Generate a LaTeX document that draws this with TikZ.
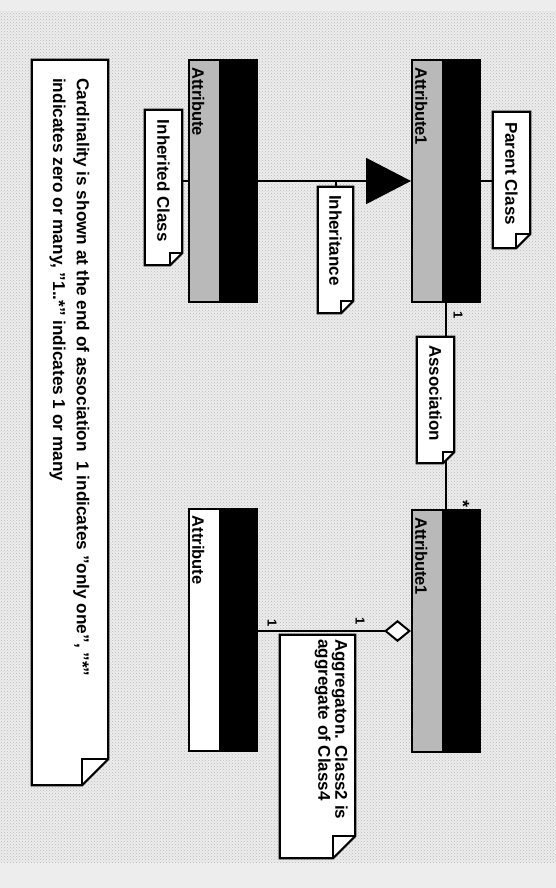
\documentclass[tikz,border=0pt]{standalone}
\usepackage{fontspec}
\setmainfont{Liberation Sans}
\usetikzlibrary{arrows.meta,backgrounds,patterns}
\newcommand{\notefold}[2]{%
  \fill[white] (#1.north west) -- (#1.north east) -- ([yshift=#2]#1.south east) -- ([xshift=-#2]#1.south east) -- (#1.south west) -- cycle;
  \draw[line width=2.2pt,line join=miter] (#1.north west) -- (#1.north east) -- ([yshift=#2]#1.south east) -- ([xshift=-#2]#1.south east) -- (#1.south west) -- cycle;
  \draw[line width=1.6pt] ([xshift=-#2]#1.south east) -- ([xshift=-#2,yshift=#2]#1.south east) -- ([yshift=#2]#1.south east);}
\begin{document}
\begin{tikzpicture}[x=1pt,y=-1pt,
  cls/.style={draw=black,line width=2pt,fill=black,inner sep=0pt,minimum width=68pt,minimum height=242pt},
  namecomp/.style={draw=black,line width=2pt,fill=gray!55,inner sep=0pt,minimum width=31pt,minimum height=242pt,anchor=north west},
  clslabel/.style={inner sep=0pt,anchor=north west,font=\bfseries\fontsize{16.5}{18}\selectfont},
  notebox/.style={inner sep=0pt},
  notetext/.style={inner sep=0pt,anchor=north,font=\bfseries\fontsize{17}{20}\selectfont},
  conn/.style={draw=black,line width=2pt},
  mult/.style={inner sep=0pt,font=\bfseries\fontsize{13}{14}\selectfont}]
\useasboundingbox (0,0) rectangle (556,888);
% classes
\node[cls] (c1) at (223,181) {};
\node[namecomp] (c1n) at (c1.north west) {};
\node[clslabel] (c1l) at ([xshift=4pt,yshift=-8pt]c1.north west) {\rotatebox{-90}{Attribute}};
\node[cls] (c2) at (446,181) {};
\node[namecomp] (c2n) at (c2.north west) {};
\node[clslabel] (c2l) at ([xshift=4pt,yshift=-8pt]c2.north west) {\rotatebox{-90}{Attribute1}};
\node[cls] (c3) at (446,631) {};
\node[namecomp] (c3n) at (c3.north west) {};
\node[clslabel] (c3l) at ([xshift=4pt,yshift=-8pt]c3.north west) {\rotatebox{-90}{Attribute1}};
\node[cls] (c4) at (223,629.5) {};
\node[namecomp,fill=white] (c4n) at (c4.north west) {};
\node[clslabel] (c4l) at ([xshift=4pt,yshift=-8pt]c4.north west) {\rotatebox{-90}{Attribute}};
% notes
\node[notebox,minimum width=37pt,minimum height=155pt] (n1) at (163.5,187.5) {};
\node[notetext] (n1t) at ([yshift=-10pt]n1.north) {\rotatebox{-90}{Inherited Class}};
\node[notebox,minimum width=37pt,minimum height=136pt] (n2) at (511.5,180) {};
\node[notetext] (n2t) at ([yshift=-10pt]n2.north) {\rotatebox{-90}{Parent Class}};
\node[notebox,minimum width=35pt,minimum height=126pt] (n3) at (335.5,250) {};
\node[notetext] (n3t) at ([yshift=-8pt]n3.north) {\rotatebox{-90}{Inheritance}};
\node[notebox,minimum width=37pt,minimum height=126pt] (n4) at (435.5,400) {};
\node[notetext] (n4t) at ([yshift=-8pt]n4.north) {\rotatebox{-90}{Association}};
\node[notebox,minimum width=76pt,minimum height=725pt] (n5) at (70,422.5) {};
\node[inner sep=0pt,anchor=north east,font=\bfseries\fontsize{17.2}{24}\selectfont] (n5t) at (94,78) {\rotatebox{-90}{\begin{tabular}{@{}l@{}}Cardinality is shown at the end of association\ \ 1 indicates "only one", "*"\\indicates zero or many, "1..*" indicates 1 or many\end{tabular}}};
\node[notebox,minimum width=75pt,minimum height=223pt] (n6) at (317.5,746.5) {};
\node[inner sep=0pt,anchor=north east,font=\bfseries\fontsize{17}{16}\selectfont] (n6t) at (348,639) {\rotatebox{-90}{\begin{tabular}{@{}l@{}}Aggregaton. Class2 is\\aggregate of Class4\end{tabular}}};
% multiplicities
\node[mult] (m1) at (458,315) {\rotatebox{-90}{1}};
\node[mult,font=\bfseries\fontsize{18}{18}\selectfont] (m2) at (463,504) {\rotatebox{-90}{*}};
\node[mult] (m3) at (360,621) {\rotatebox{-90}{1}};
\node[mult] (m4) at (272,623) {\rotatebox{-90}{1}};
\begin{scope}[on background layer]
  \fill[gray!14] (0,0) rectangle (556,888);
  \fill[pattern=crosshatch dots,pattern color=gray!55] (0,12) rectangle (556,862);
  \draw[conn,-{Triangle[length=45pt,width=46pt]}] (c1.east) -- (c2.west);
  \draw[conn] (n1.east |- c1.west) -- (c1.west);
  \draw[conn] (c2.east) -- (n2.west |- c2.east);
  \draw[conn] (n3.north) -- (n3.north |- c1.east);
  \draw[conn] (c2.south) -- (c3.north);
  \draw[conn,{Diamond[length=27pt,width=22pt,fill=white]}-] (c3.west) -- (c3.west -| c4.east);
  \notefold{n1}{12pt}
  \notefold{n2}{14pt}
  \notefold{n3}{12pt}
  \notefold{n4}{11pt}
  \notefold{n5}{26pt}
  \notefold{n6}{22pt}
\end{scope}
\end{tikzpicture}
\end{document}
